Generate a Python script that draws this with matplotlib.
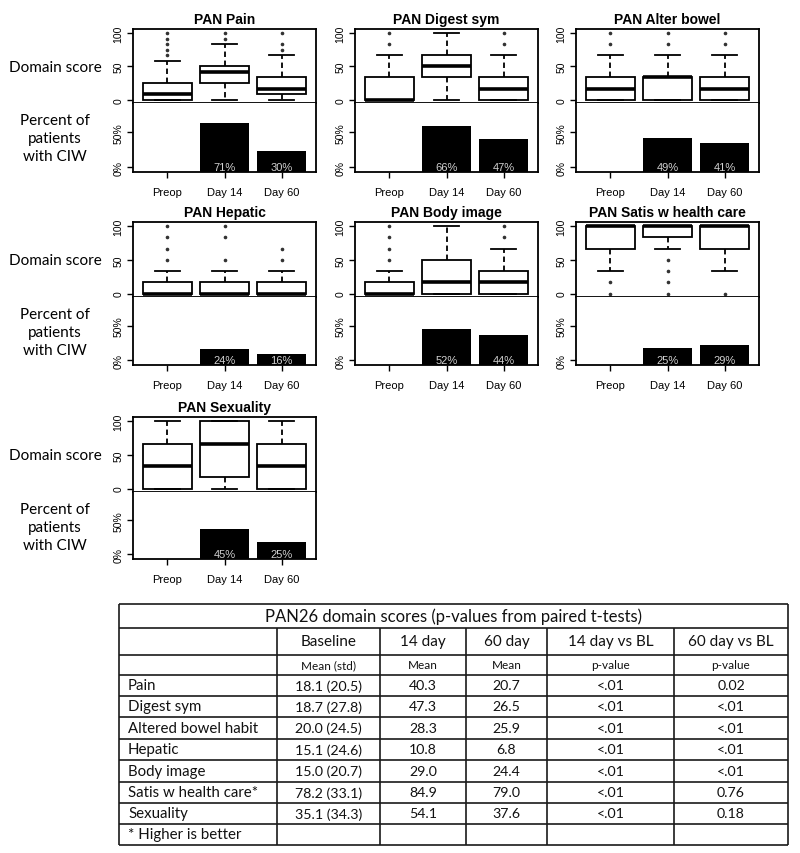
import matplotlib
matplotlib.use("Agg")
import matplotlib.pyplot as plt

# ---- data ----
panel_titles = ["PAN Pain", "PAN Digest sym", "PAN Alter bowel",
                "PAN Hepatic", "PAN Body image", "PAN Satis w health care",
                "PAN Sexuality"]
timepoints = ["Preop", "Day 14", "Day 60"]

# box stats per panel, one value per timepoint
box_q1 = [[0, 25, 8.3], [0, 33.3, 0], [0, 0, 0], [0, 0, 0],
          [0, 0, 0], [66.7, 83.3, 66.7], [0, 16.7, 0]]
box_med = [[8.3, 41.7, 16.7], [0, 50, 16.7], [16.7, 33.3, 16.7], [0, 0, 0],
           [0, 16.7, 16.7], [100, 100, 100], [33.3, 66.7, 33.3]]
box_q3 = [[25, 50, 33.3], [33.3, 66.7, 33.3], [33.3, 33.3, 33.3],
          [16.7, 16.7, 16.7], [16.7, 50, 33.3], [100, 100, 100],
          [66.7, 100, 66.7]]
whis_lo = [[0, 0, 0], [0, 0, 0], [0, 0, 0], [0, 0, 0],
           [0, 0, 0], [33.3, 66.7, 33.3], [0, 0, 0]]
whis_hi = [[58.3, 83.3, 66.7], [66.7, 100, 66.7], [66.7, 66.7, 66.7],
           [33.3, 33.3, 33.3], [33.3, 100, 66.7], [100, 100, 100],
           [100, 100, 100]]
outliers = [
    [[66.7, 75, 83.3, 91.7, 100], [91.7, 100], [75, 83.3, 100]],
    [[83.3, 100], [], [83.3, 100]],
    [[83.3, 100], [83.3, 100], [83.3, 100]],
    [[50, 66.7, 83.3, 100], [50, 83.3, 100], [50, 66.7]],
    [[50, 66.7, 83.3, 100], [], [83.3, 100]],
    [[16.7, 0], [50, 33.3, 16.7, 0], [0]],
    [[], [], []],
]
ciw_pct = [[0, 71, 30], [0, 66, 47], [0, 49, 41], [0, 24, 16],
           [0, 52, 44], [0, 25, 29], [0, 45, 25]]

# table
tab_title = "PAN26 domain scores (p-values from paired t-tests)"
tab_header = ["", "Baseline", "14 day", "60 day", "14 day vs BL", "60 day vs BL"]
tab_sub = ["", "Mean (std)", "Mean", "Mean", "p-value", "p-value"]
domains = ["Pain", "Digest sym", "Altered bowel habit", "Hepatic",
           "Body image", "Satis w health care*", "Sexuality"]
baseline = ["18.1 (20.5)", "18.7 (27.8)", "20.0 (24.5)", "15.1 (24.6)",
            "15.0 (20.7)", "78.2 (33.1)", "35.1 (34.3)"]
mean14 = ["40.3", "47.3", "28.3", "10.8", "29.0", "84.9", "54.1"]
mean60 = ["20.7", "26.5", "25.9", "6.8", "24.4", "79.0", "37.6"]
p14 = ["<.01"] * 7
p60 = ["0.02", "<.01", "<.01", "<.01", "<.01", "0.76", "0.18"]
footnote = "* Higher is better"

W, H = 800, 854
fig = plt.figure(figsize=(8, 8.54), dpi=100)
fig.patch.set_facecolor("white")


def rect(x0, y0, x1, y1):
    return [x0 / W, 1 - y1 / H, (x1 - x0) / W, (y1 - y0) / H]


col_left = [133, 355, 576]
pw = 183
row_top = [30, 223, 418]
row_mid = [104, 298, 493]
row_bot = [173, 366, 560]
plot_font = "Liberation Sans"
label_font = "Lato"
lw = 1.3

for i, title in enumerate(panel_titles):
    r, c = divmod(i, 3)
    x0 = col_left[c]
    ax_box = fig.add_axes(rect(x0, row_top[r], x0 + pw, row_mid[r]))
    ax_bar = fig.add_axes(rect(x0, row_mid[r], x0 + pw, row_bot[r]))

    stats = []
    for j in range(3):
        stats.append(dict(q1=box_q1[i][j], med=box_med[i][j], q3=box_q3[i][j],
                          whislo=whis_lo[i][j], whishi=whis_hi[i][j],
                          fliers=outliers[i][j]))
    ax_box.bxp(stats, positions=[1, 2, 3], widths=0.86, capwidths=0.44,
               patch_artist=True,
               boxprops=dict(facecolor="white", edgecolor="black", linewidth=lw),
               medianprops=dict(color="black", linewidth=2.6),
               whiskerprops=dict(color="black", linestyle=(0, (3, 2)), linewidth=lw),
               capprops=dict(color="black", linewidth=lw),
               flierprops=dict(marker="o", markersize=1.6, markerfacecolor="#333333",
                               markeredgecolor="#333333"))
    ax_box.set_xlim(0.4, 3.6)
    ax_box.set_ylim(-5, 106)
    ax_box.set_yticks([0, 50, 100])
    ax_box.set_xticks([])
    ax_box.set_title(title, fontsize=10, fontweight="bold", family=plot_font, pad=4)

    x = [1, 2, 3]
    lo = -7
    ax_bar.bar(x, ciw_pct[i], width=0.86, bottom=lo, color="black")
    for xx, v in zip(x, ciw_pct[i]):
        if v > 0:
            ax_bar.text(xx, 0, f"{v}%", ha="center", va="center", fontsize=8,
                        color="#d0d0d0", family=plot_font)
    ax_bar.set_xlim(0.4, 3.6)
    ax_bar.set_ylim(lo, 92)
    ax_bar.set_yticks([0, 50])
    ax_bar.set_yticklabels(["0%", "50%"])
    ax_bar.set_xticks(x)
    ax_bar.set_xticklabels(timepoints)

    for ax in (ax_box, ax_bar):
        for sp in ax.spines.values():
            sp.set_linewidth(lw)
        ax.tick_params(axis="y", direction="out", length=4, width=1,
                       labelsize=7.5, pad=3, labelrotation=90)
        for lab in ax.get_yticklabels():
            lab.set_va("center")
            lab.set_family(plot_font)
    ax_bar.spines["top"].set_visible(False)
    ax_bar.tick_params(axis="x", direction="out", length=4, width=1,
                       labelsize=8, pad=7)
    for lab in ax_bar.get_xticklabels():
        lab.set_family(plot_font)

    if c == 0:
        y50 = row_top[r] + 38
        fig.text(55 / W, 1 - y50 / H, "Domain score", ha="center", va="center",
                 fontsize=11, family=label_font)
        fig.text(55 / W, 1 - (row_mid[r] + 35) / H, "Percent of\npatients\nwith CIW",
                 ha="center", va="center", fontsize=11, family=label_font,
                 linespacing=1.35)

# ---- table ----
tab = fig.add_axes([0, 0, 1, 1], zorder=-1)
tab.set_xlim(0, W)
tab.set_ylim(H, 0)
tab.axis("off")

col_edges = [119, 277, 380, 466, 547, 674, 788]
row_edges = [605, 629, 656, 676, 697, 718, 740, 761, 783, 804, 825, 846]
tlw = 1.2
lc = "#1a1a1a"

tab.hlines(row_edges, col_edges[0], col_edges[-1], color=lc, linewidth=tlw)
tab.vlines([col_edges[0], col_edges[-1]], row_edges[0], row_edges[-1],
           color=lc, linewidth=tlw)
tab.vlines(col_edges[1:-1], row_edges[1], row_edges[-1], color=lc,
           linewidth=tlw)

tfont = label_font
tc = "#111111"
tab.text((col_edges[0] + col_edges[-1]) / 2, (row_edges[0] + row_edges[1]) / 2,
         tab_title, ha="center", va="center", fontsize=12, family=tfont, color=tc)

centers = [(col_edges[k] + col_edges[k + 1]) / 2 for k in range(6)]
for k in range(1, 6):
    tab.text(centers[k], (row_edges[1] + row_edges[2]) / 2, tab_header[k],
             ha="center", va="center", fontsize=11, family=tfont, color=tc)
    tab.text(centers[k], (row_edges[2] + row_edges[3]) / 2, tab_sub[k],
             ha="center", va="center", fontsize=8.5, family=tfont, color=tc)

for n in range(len(domains)):
    yc = (row_edges[3 + n] + row_edges[4 + n]) / 2
    tab.text(col_edges[0] + 9, yc, domains[n], ha="left", va="center",
             fontsize=10.8, family=tfont, color=tc)
    for k, col in zip(range(1, 6), [baseline, mean14, mean60, p14, p60]):
        tab.text(centers[k], yc, col[n], ha="center", va="center",
                 fontsize=10.2, family=tfont, color=tc)

tab.text(col_edges[0] + 9, (row_edges[-2] + row_edges[-1]) / 2, footnote,
         ha="left", va="center", fontsize=10.8, family=tfont, color=tc)

fig.savefig("out.png", dpi=100, facecolor="white")
